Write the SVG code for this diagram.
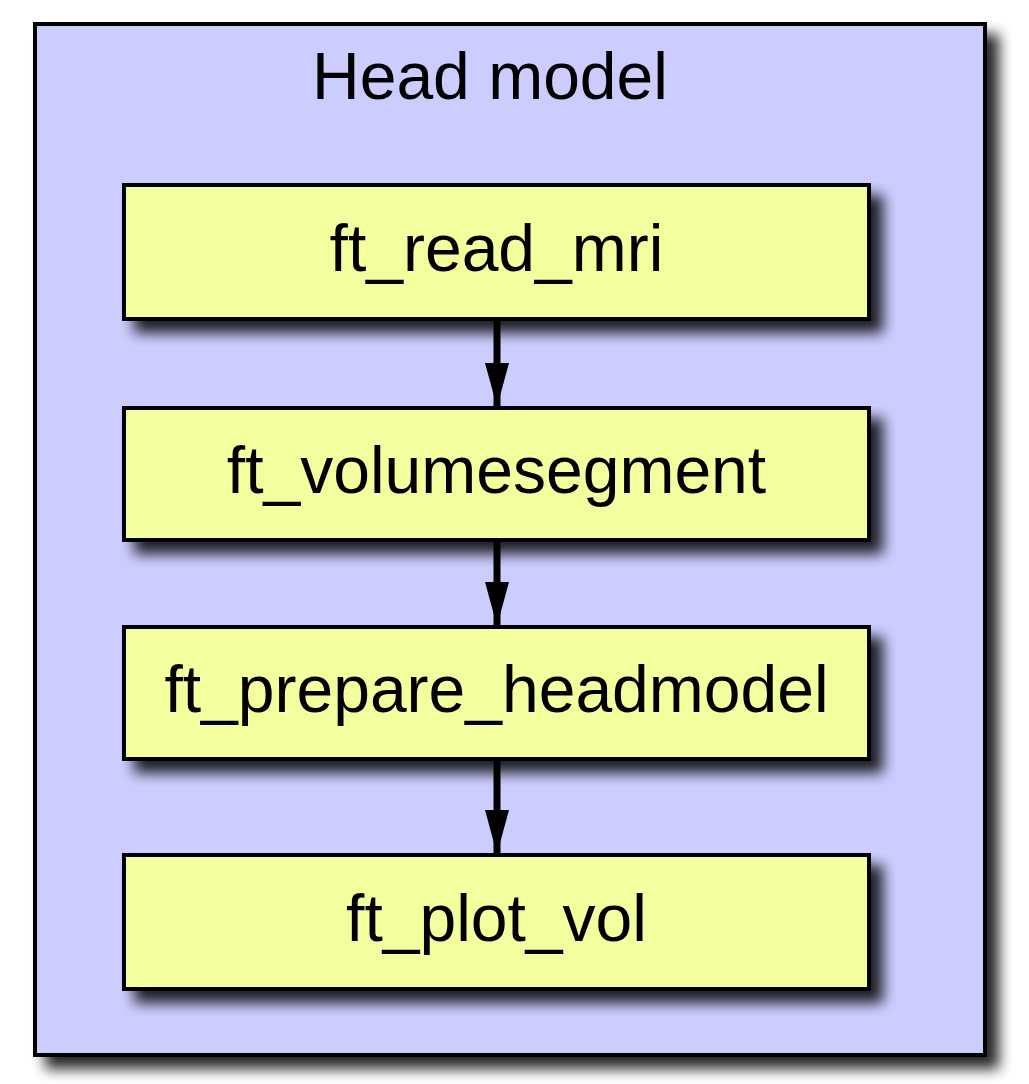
<svg xmlns="http://www.w3.org/2000/svg" width="1029" height="1084" viewBox="0 0 1029 1084">
<defs>
<filter id="sh" x="-10%" y="-10%" width="130%" height="130%">
<feGaussianBlur in="SourceAlpha" stdDeviation="7"/>
<feOffset dx="12" dy="12" result="b"/>
<feComponentTransfer><feFuncA type="linear" slope="0.85"/></feComponentTransfer>
<feMerge><feMergeNode/><feMergeNode in="SourceGraphic"/></feMerge>
</filter>
<marker id="ah" markerUnits="userSpaceOnUse" markerWidth="44" markerHeight="24" refX="44" refY="12" orient="auto" viewBox="0 0 44 24">
<path d="M0,0 L44,12 L0,24 Z" fill="#000"/>
</marker>
<style>
.node rect{fill:#f3ff9e;stroke:#000;stroke-width:4}
text{font-family:"Liberation Sans",Arial,sans-serif;font-size:66px;fill:#000;text-anchor:middle}
.edge{stroke:#000;stroke-width:7;fill:none}
</style>
</defs>
<g id="cluster_head_model">
<rect x="35" y="24" width="950" height="1031" fill="#ccccff" stroke="#000" stroke-width="4" filter="url(#sh)"/>
<text x="490" y="99">Head model</text>
</g>
<g id="ft_read_mri" class="node">
<rect x="124" y="185" width="745" height="134" filter="url(#sh)"/>
<text x="496.5" y="271">ft_read_mri</text>
</g>
<g id="ft_volumesegment" class="node">
<rect x="124" y="408" width="745" height="132" filter="url(#sh)"/>
<text x="496.5" y="493">ft_volumesegment</text>
</g>
<g id="ft_prepare_headmodel" class="node">
<rect x="124" y="627" width="745" height="132" filter="url(#sh)"/>
<text x="496.5" y="712">ft_prepare_headmodel</text>
</g>
<g id="ft_plot_vol" class="node">
<rect x="124" y="855" width="745" height="134" filter="url(#sh)"/>
<text x="496.5" y="941">ft_plot_vol</text>
</g>
<g id="edges">
<line class="edge" x1="497" y1="321" x2="497" y2="407" marker-end="url(#ah)"/>
<line class="edge" x1="497" y1="542" x2="497" y2="626" marker-end="url(#ah)"/>
<line class="edge" x1="497" y1="761" x2="497" y2="854" marker-end="url(#ah)"/>
</g>
</svg>
